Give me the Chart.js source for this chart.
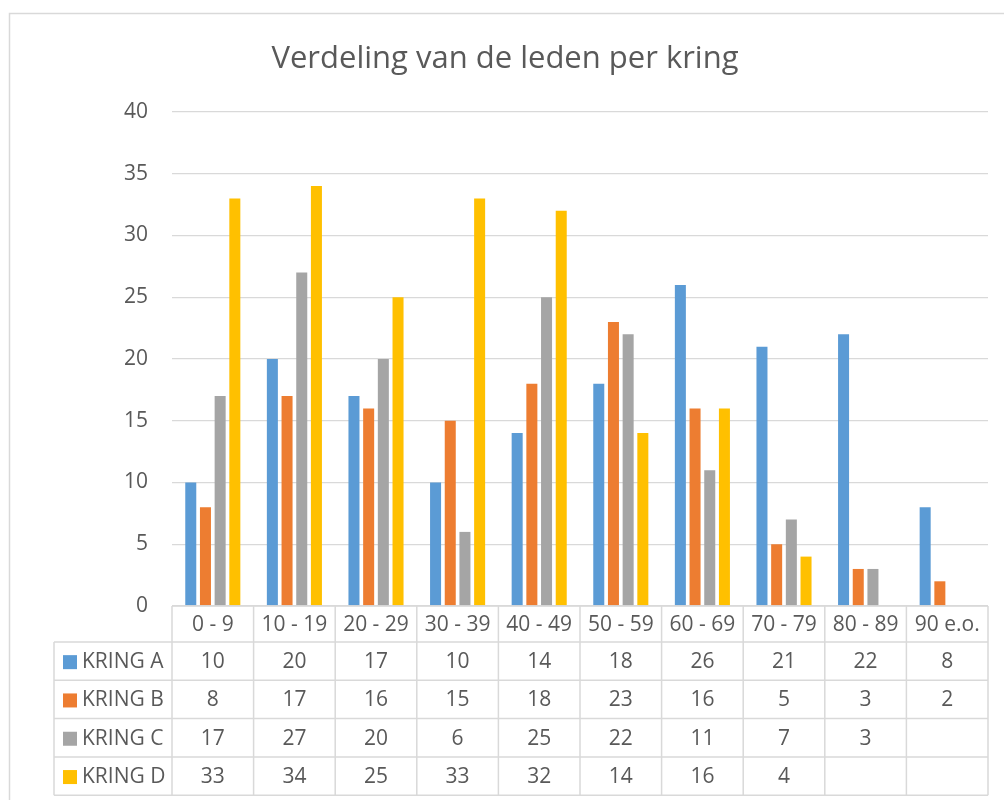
<!DOCTYPE html>
<html>
<head>
<meta charset="utf-8">
<script src="https://cdn.jsdelivr.net/npm/chart.js@4/dist/chart.umd.min.js"></script>
<style>
  html, body { margin: 0; padding: 0; background: #ffffff; }
  #wrap { position: relative; width: 1004px; height: 800px; overflow: hidden; }
  canvas { display: block; }
</style>
</head>
<body>
<div id="wrap"><canvas id="c" width="1004" height="800"></canvas></div>
<script>
const categories = ['0 - 9', '10 - 19', '20 - 29', '30 - 39', '40 - 49', '50 - 59', '60 - 69', '70 - 79', '80 - 89', '90 e.o.'];
const seriesNames = ['KRING A', 'KRING B', 'KRING C', 'KRING D'];
const kringA = [10, 20, 17, 10, 14, 18, 26, 21, 22, 8];
const kringB = [8, 17, 16, 15, 18, 23, 16, 5, 3, 2];
const kringC = [17, 27, 20, 6, 25, 22, 11, 7, 3, null];
const kringD = [33, 34, 25, 33, 32, 14, 16, 4, null, null];
const yTicks = [0, 5, 10, 15, 20, 25, 30, 35, 40];
const titleText = 'Verdeling van de leden per kring';

const colors = ['#5B9BD5', '#ED7D31', '#A5A5A5', '#FFC000'];
const allSeries = [kringA, kringB, kringC, kringD];
const textColor = '#595959';
const lineColor = '#D9D9D9';
const FONT = '"Open Sans", "Noto Sans", sans-serif';

const frame = {
  id: 'frame',
  beforeDraw(chart) {
    const ctx = chart.ctx;
    ctx.save();
    ctx.strokeStyle = lineColor;
    ctx.lineWidth = 1.5;
    ctx.strokeRect(9.5, 13.5, 1200, 1000);
    ctx.restore();
  }
};

const dataTable = {
  id: 'dataTable',
  afterDraw(chart) {
    const ctx = chart.ctx;
    const x = chart.scales.x;
    const n = categories.length;
    const w = (x.right - x.left) / n;
    const top = chart.chartArea.bottom;
    const headerH = 36;
    const rowH = 38.3;
    const legendLeft = 54;
    const bottom = top + headerH + rowH * seriesNames.length;
    ctx.save();
    ctx.strokeStyle = lineColor;
    ctx.lineWidth = 1.5;
    ctx.beginPath();
    ctx.moveTo(x.left, top); ctx.lineTo(x.right, top);
    for (let r = 0; r <= seriesNames.length; r++) {
      const yy = top + headerH + rowH * r;
      ctx.moveTo(legendLeft, yy); ctx.lineTo(x.right, yy);
    }
    for (let i = 0; i <= n; i++) {
      const xx = x.left + w * i;
      ctx.moveTo(xx, top); ctx.lineTo(xx, bottom);
    }
    ctx.moveTo(legendLeft, top + headerH); ctx.lineTo(legendLeft, bottom);
    ctx.stroke();

    ctx.fillStyle = textColor;
    ctx.font = '21px ' + FONT;
    ctx.textAlign = 'center';
    ctx.textBaseline = 'middle';
    categories.forEach((c, i) => {
      ctx.fillText(c, x.getPixelForValue(i), top + headerH / 2 + 1);
    });
    allSeries.forEach((s, r) => {
      const cy = top + headerH + rowH * r + rowH / 2 + 1;
      s.forEach((v, i) => {
        if (v === null || v === undefined) return;
        ctx.fillText(String(v), x.getPixelForValue(i), cy);
      });
      ctx.fillStyle = colors[r];
      ctx.fillRect(63, cy - 7, 14, 14);
      ctx.fillStyle = textColor;
      ctx.textAlign = 'left';
      ctx.fillText(seriesNames[r], 82, cy);
      ctx.textAlign = 'center';
    });
    ctx.restore();
  }
};

new Chart(document.getElementById('c'), {
  type: 'bar',
  data: {
    labels: categories,
    datasets: allSeries.map((s, i) => ({
      label: seriesNames[i],
      data: s,
      backgroundColor: colors[i],
      borderWidth: 0,
      categoryPercentage: 0.72,
      barPercentage: 0.75
    }))
  },
  options: {
    responsive: false,
    animation: false,
    devicePixelRatio: 1,
    layout: { padding: { top: 0, left: 6, right: 0, bottom: 194 } },
    plugins: {
      legend: { display: false },
      tooltip: { enabled: false },
      title: {
        display: true,
        text: titleText,
        color: textColor,
        font: { family: FONT, size: 31, weight: 'normal', lineHeight: 1.2 },
        padding: { top: 41, bottom: 33.8 }
      }
    },
    scales: {
      x: { display: false },
      y: {
        min: 0, max: 40,
        afterBuildTicks(s) { s.ticks = yTicks.map(v => ({ value: v })); },
        afterFit(s) { s.width = 166; },
        border: { display: false },
        grid: { color: lineColor, lineWidth: 1.3, drawTicks: false },
        ticks: { padding: 24, color: textColor, font: { family: FONT, size: 21 } }
      },
      y2: {
        position: 'right',
        display: true,
        afterFit(s) { s.width = 16; },
        border: { display: false },
        grid: { display: false, drawTicks: false },
        ticks: { display: false }
      }
    }
  },
  plugins: [frame, dataTable]
});
</script>
</body>
</html>
